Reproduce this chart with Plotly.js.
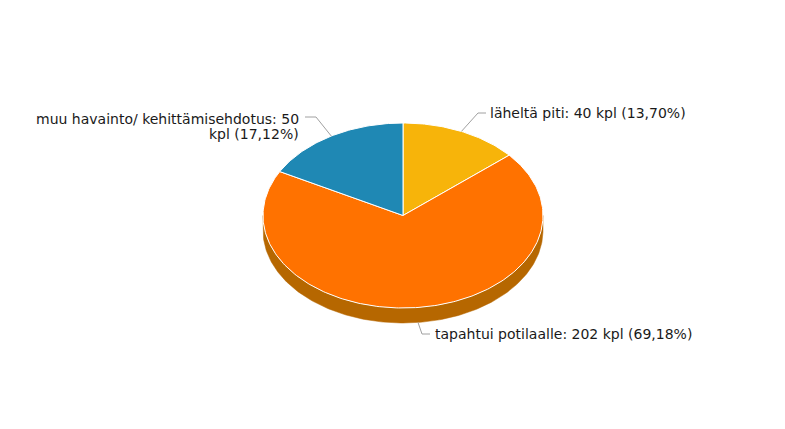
<!DOCTYPE html>
<html>
<head>
<meta charset="utf-8">
<script src="https://cdn.plot.ly/plotly-3.0.1.min.js"></script>
<style>
  html, body { margin: 0; padding: 0; background: #fff; }
  #chart { width: 785px; height: 429px; }
</style>
</head>
<body>
<div id="chart"></div>
<script>
// Data
const categories = ["läheltä piti", "tapahtui potilaalle", "muu havainto/ kehittämisehdotus"];
const counts = [40, 202, 50];
const sliceColors = ["#f7b40a", "#ff7200", "#1f88b4"];
const sideColors = ["#ad7e07", "#b66700", "#15607e"];

// Pie geometry in pixel space (axes are mapped 1:1 to the page)
const W = 785, H = 429;
const CX = 403, CY = 215.5, RX = 140, RY = 92.5, DEPTH = 15;
const FONT = "DejaVu Sans, Verdana, sans-serif";
const LABEL_SIZE = 14;

const total = counts.reduce((a, b) => a + b, 0);

// angle measured clockwise from 12 o'clock, degrees
function pt(deg, dy) {
  const r = deg * Math.PI / 180;
  return [CX + RX * Math.sin(r), CY - RY * Math.cos(r) + (dy || 0)];
}

function arc(a0, a1, dy) {
  const xs = [], ys = [];
  const n = Math.max(2, Math.ceil(Math.abs(a1 - a0)));
  for (let i = 0; i <= n; i++) {
    const p = pt(a0 + (a1 - a0) * i / n, dy);
    xs.push(p[0]);
    ys.push(p[1]);
  }
  return { xs, ys };
}

function fmt(v) {
  return v.toFixed(2).replace(".", ",");
}

const traces = [];
const slices = [];
let start = 0;
counts.forEach((c, i) => {
  const sweep = c / total * 360;
  slices.push({ a0: start, a1: start + sweep, mid: start + sweep / 2 });
  start += sweep;
});

// front side walls (visible part between 90 and 270 degrees)
slices.forEach((s, i) => {
  const a0 = Math.max(s.a0, 90), a1 = Math.min(s.a1, 270);
  if (a1 <= a0) return;
  const top = arc(a0, a1, 0);
  const bot = arc(a1, a0, DEPTH);
  traces.push({
    x: top.xs.concat(bot.xs, [top.xs[0]]),
    y: top.ys.concat(bot.ys, [top.ys[0]]),
    type: "scatter",
    mode: "lines",
    fill: "toself",
    fillcolor: sideColors[i],
    line: { color: sideColors[i], width: 0.5 },
    hoverinfo: "skip",
  });
});

// top faces
slices.forEach((s, i) => {
  const a = arc(s.a0, s.a1, 0);
  traces.push({
    x: [CX].concat(a.xs, [CX]),
    y: [CY].concat(a.ys, [CY]),
    type: "scatter",
    mode: "lines",
    fill: "toself",
    fillcolor: sliceColors[i],
    line: { color: "#ffffff", width: 1 },
    name: categories[i],
    text: categories[i] + ": " + counts[i] + " kpl",
    hoverinfo: "text",
  });
});

// data labels with connectors (same order as categories);
// each label may be split into lines drawn at their own y
const labelAnchors = [
  { x: 488, ys: [113], bend: [478, 113], end: 486, xanchor: "left" },
  { x: 433, ys: [334], bend: [422, 334], end: 430, xanchor: "left" },
  { x: 301, ys: [119, 134], bend: [316, 117], end: 305, xanchor: "right" },
];

const annotations = [];
slices.forEach((s, i) => {
  const m = s.mid;
  const onFront = m > 90 && m < 270;
  const p = pt(m, onFront ? DEPTH : 0);
  const la = labelAnchors[i];
  traces.push({
    x: [p[0], la.bend[0], la.end],
    y: [p[1], la.bend[1], la.bend[1]],
    type: "scatter",
    mode: "lines",
    line: { color: "#a0a0a0", width: 1 },
    hoverinfo: "skip",
  });
  const pct = "(" + fmt(counts[i] / total * 100) + "%)";
  const lines = la.ys.length === 2
    ? [categories[i] + ": " + counts[i], "kpl " + pct]
    : [categories[i] + ": " + counts[i] + " kpl " + pct];
  lines.forEach((t, k) => {
    annotations.push({
      x: la.x,
      y: la.ys[k],
      xref: "x",
      yref: "y",
      text: t,
      showarrow: false,
      xanchor: la.xanchor,
      yanchor: "middle",
      font: { family: FONT, size: LABEL_SIZE, color: "#1a1a1a" },
    });
  });
});

const layout = {
  width: W,
  height: H,
  margin: { l: 0, r: 0, t: 0, b: 0 },
  paper_bgcolor: "#ffffff",
  plot_bgcolor: "#ffffff",
  showlegend: false,
  xaxis: { range: [0, W], visible: false, fixedrange: true },
  yaxis: { range: [H, 0], visible: false, fixedrange: true },
  annotations: annotations,
  hovermode: "closest",
};

Plotly.newPlot("chart", traces, layout, { displayModeBar: false });
</script>
</body>
</html>
